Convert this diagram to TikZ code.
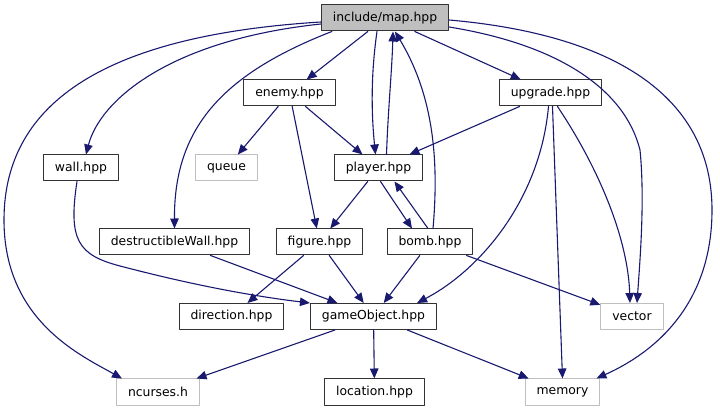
\documentclass[tikz,border=0pt]{standalone}
\usepackage{fontspec}
\setmainfont{DejaVu Sans}
\usetikzlibrary{arrows.meta}

\begin{document}
\begin{tikzpicture}[x=1pt, y=-1pt, line cap=round, line join=round,
    box/.style={draw=black!80, line width=1pt, fill=white, minimum height=26pt,
                inner xsep=11.5pt, inner ysep=0pt, font=\fontsize{12.4}{14}\selectfont},
    sysbox/.style={box, draw=black!25},
    edge/.style={draw=edgecol, line width=1.1pt, -{Triangle[length=10pt,width=8.5pt]}}]
  \definecolor{edgecol}{HTML}{191970}
  \useasboundingbox (0,0) rectangle (720,411);

  \node[box, fill=black!25] (map) at (385,18) {include/map.hpp};
  \node[box] (enemy) at (289.5,93) {enemy.hpp};
  \node[box] (upgrade) at (550.5,93) {upgrade.hpp};
  \node[box] (wall) at (81,168) {wall.hpp};
  \node[sysbox] (queue) at (226.5,168) {queue};
  \node[box] (player) at (378.5,168) {player.hpp};
  \node[box] (destructibleWall) at (174.5,242) {destructibleWall.hpp};
  \node[box] (figure) at (319.5,242) {figure.hpp};
  \node[box] (bomb) at (430,242) {bomb.hpp};
  \node[box] (direction) at (231.5,316.5) {direction.hpp};
  \node[box] (gameObject) at (373.5,316.5) {gameObject.hpp};
  \node[sysbox] (vector) at (632,316.5) {vector};
  \node[sysbox] (ncurses) at (158,392) {ncurses.h};
  \node[box] (location) at (374.5,392) {location.hpp};
  \node[sysbox] (memory) at (562.5,392) {memory};

  \foreach \a/\b in {map/enemy, map/upgrade, enemy/queue, enemy/player, enemy/figure,
                     upgrade/player, player/figure, figure/direction, figure/gameObject,
                     destructibleWall/gameObject, bomb/gameObject, bomb/vector,
                     gameObject/ncurses, gameObject/location, gameObject/memory} {%
    \draw[edge] (\a) -- (\b);
  }

  \draw[edge] ([yshift=-6pt]map.west) .. controls (170,40) and (100,100) .. ([xshift=5pt]wall.north);
  \draw[edge] ([yshift=-4pt]map.west) .. controls (110,35) and (4,100) .. (4,220)
    .. controls (4,320) and (80,355) .. ([xshift=6pt]ncurses.north west);
  \draw[edge] ([xshift=11pt]map.south west) .. controls (220,75) and (174,130) .. (destructibleWall.north);
  \draw[edge] ([xshift=-8pt]map.south) .. controls (370,80) and (372,120) .. ([xshift=-3pt]player.north);
  \draw[edge] ([xshift=8pt]player.north) .. controls (388,110) and (392,70) .. ([xshift=8pt]map.south);
  \draw[edge] ([xshift=3pt]bomb.north) .. controls (440,150) and (430,90) .. ([xshift=10pt]map.south);
  \draw[edge] ([yshift=-9pt]map.east) .. controls (560,45) and (625,90) .. (640,150)
    .. controls (645,200) and (640,260) .. ([xshift=5pt]vector.north);
  \draw[edge] ([yshift=-2pt]map.east) .. controls (620,35) and (712,100) .. (712,210)
    .. controls (712,300) and (660,350) .. ([xshift=-4pt]memory.north east);

  \draw[edge] ([xshift=2pt]upgrade.south) -- (memory.north);
  \draw[edge] ([xshift=7pt]upgrade.south) .. controls (600,170) and (628,240) .. ([xshift=-2pt]vector.north);
  \draw[edge] ([xshift=-2pt]upgrade.south) .. controls (540,200) and (480,270) .. ([xshift=-20pt]gameObject.north east);
  \draw[edge] ([xshift=2pt]player.south) -- ([xshift=-18pt]bomb.north);
  \draw[edge] ([xshift=-2pt]bomb.north) -- ([xshift=16pt]player.south);
  \draw[edge] ([xshift=-4pt]wall.south) .. controls (68,240) and (78,255) .. (120,266)
    .. controls (200,287) and (260,297) .. (gameObject.north west);
\end{tikzpicture}
\end{document}
